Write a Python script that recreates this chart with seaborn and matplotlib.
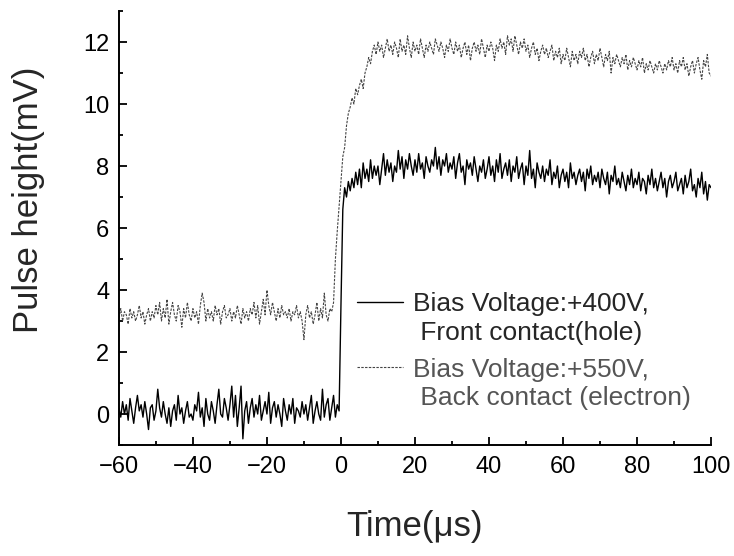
import numpy as np
import pandas as pd
import matplotlib
matplotlib.use("Agg")
import matplotlib.pyplot as plt
from matplotlib.lines import Line2D
from matplotlib.ticker import MultipleLocator
import seaborn as sns

# time axis, 0.5 us sampling
time_us = np.arange(-60, 100.5, 0.5)

# front contact (hole), +400 V : baseline before the trigger
hole_pre = [
    0.2, -0.1, 0.4, 0.0, 0.3, -0.2, 0.5, 0.1, -0.3, 0.2,
    0.6, 0.1, 0.3, -0.1, 0.4, 0.0, -0.5, 0.2, 0.3, -0.2,
    0.1, 0.8, 0.2, -0.1, 0.4, 0.0, -0.3, 0.2, -0.4, 0.1,
    0.3, -0.2, 0.6, 0.0, 0.2, -0.3, 0.1, 0.4, -0.1, 0.0,
    -0.2, 0.3, 0.1, 0.7, -0.1, 0.2, -0.4, 0.5, 0.0, -0.2,
    0.4, 0.1, -0.3, 0.3, 0.8, 0.0, -0.1, 0.5, 0.2, -0.2,
    0.3, 0.9, -0.1, 0.6, -0.4, 0.2, 0.9, -0.8, 0.1, 0.4,
    -0.3, 0.2, 0.5, -0.1, 0.3, 0.0, 0.6, -0.2, 0.1, 0.4,
    0.0, 0.7, -0.3, 0.2, 0.4, -0.1, 0.3, 0.0, -0.4, 0.5,
    0.1, -0.2, 0.3, 0.0, 0.5, -0.3, 0.2, 0.1, -0.1, 0.4,
    0.0, 0.3, -0.2, 0.2, 0.6, -0.3, 0.1, 0.4, 0.0, -0.2,
    0.8, -0.1, 0.3, 0.5, -0.2, 0.2, 0.6, -0.1, 0.3, 0.1,
]
# t = 0 ... 100
hole_post = [
    3.5, 6.6, 7.3, 7.0, 7.5, 7.2, 7.6, 7.3, 7.8, 7.4,
    7.9, 7.3, 8.1, 7.6, 7.9, 7.5, 8.2, 7.6, 8.0, 7.7,
    8.0, 7.4, 7.9, 8.4, 7.7, 8.2, 7.8, 8.1, 7.5, 8.0,
    7.8, 8.5, 7.9, 8.3, 7.6, 8.2, 7.9, 8.4, 8.0, 7.7,
    8.2, 7.8, 8.4, 7.9, 8.1, 7.6, 8.3, 8.0, 7.8, 8.2,
    8.0, 8.6, 7.9, 8.3, 7.7, 8.2, 8.0, 8.4, 7.8, 8.1,
    7.9, 8.3, 7.6, 8.1, 8.4, 7.8, 8.0, 7.4, 8.2, 7.9,
    8.1, 7.7, 8.3, 7.9, 7.5, 8.0, 7.8, 8.2, 7.6, 7.9,
    8.3, 7.7, 8.0, 7.5, 8.2, 7.8, 8.4, 7.6, 7.9, 8.1,
    7.7, 8.2, 7.5, 8.0, 7.8, 8.3, 7.6, 7.9, 8.1, 7.4,
    8.0, 7.7, 8.5, 7.6, 7.9, 7.3, 8.1, 7.8, 7.6, 8.0,
    7.5, 7.9, 7.7, 8.2, 7.4, 7.8, 7.6, 8.0, 7.3, 7.7,
    7.9, 7.5, 7.8, 7.3, 8.1, 7.6, 7.8, 7.4, 7.7, 7.9,
    7.5, 7.8, 7.2, 7.9, 7.6, 8.0, 7.4, 7.7, 7.5, 7.8,
    7.3, 7.9, 7.6, 7.4, 7.8, 7.1, 7.7, 7.5, 8.0, 7.4,
    7.6, 7.3, 7.8, 7.5, 7.2, 7.7, 7.4, 7.9, 7.3, 7.6,
    7.4, 7.8, 7.2, 7.6, 7.5, 7.1, 7.7, 7.4, 7.9, 7.3,
    7.6, 7.2, 7.5, 7.8, 7.3, 7.6, 7.0, 7.5, 7.7, 7.3,
    7.5, 7.8, 7.2, 7.4, 7.6, 7.1, 7.7, 7.3, 7.5, 7.9,
    7.2, 7.4, 7.0, 7.6, 7.3, 7.8, 7.1, 7.5, 6.9, 7.4,
    7.3,
]

# back contact (electron), +550 V
elec_pre = [
    3.1, 3.4, 3.0, 3.3, 3.2, 2.9, 3.4, 3.1, 3.3, 3.0,
    3.2, 3.5, 3.1, 3.3, 2.9, 3.2, 3.4, 3.0, 3.3, 3.1,
    3.5, 3.2, 3.6, 3.0, 3.4, 3.1, 3.7, 2.9, 3.3, 3.6,
    3.2, 3.0, 3.5, 3.3, 2.8, 3.4, 3.1, 3.6, 3.2, 3.0,
    3.4, 3.1, 3.3, 2.9, 3.5, 3.9, 3.6, 3.0, 3.4, 3.1,
    3.3, 3.0, 3.5, 3.2, 3.4, 2.9, 3.3, 3.5, 3.1, 3.2,
    3.4, 3.0, 3.3, 3.1, 3.5, 3.2, 2.9, 3.4, 3.1, 3.3,
    3.0, 3.4, 3.2, 3.6, 3.1, 3.5, 2.9, 3.3, 3.7, 3.2,
    4.0, 3.5, 3.2, 3.6, 3.3, 3.0, 3.4, 3.1, 3.5, 3.2,
    3.3, 3.1, 3.4, 3.0, 3.3, 3.2, 3.5, 3.1, 3.3, 3.0,
    2.4, 3.2, 3.5, 3.1, 3.3, 2.9, 3.2, 3.6, 3.0, 3.4,
    3.1, 3.9, 3.2, 3.0, 3.4, 3.3, 3.6, 5.0, 5.9, 6.7,
]
elec_post = [
    7.5, 8.3, 8.6, 9.3, 9.7, 9.9, 10.2, 10.0, 10.5, 10.3,
    10.6, 10.8, 10.5, 11.0, 11.2, 11.5, 11.3, 11.7, 11.9, 11.6,
    12.0, 11.7, 11.9, 11.5, 11.8, 12.1, 11.7, 11.9, 11.6, 12.0,
    11.8, 11.5, 12.1, 11.7, 11.9, 11.6, 12.2, 11.8, 11.5, 12.0,
    11.7, 11.9, 11.6, 12.1, 11.8, 11.5, 11.9, 11.7, 12.0, 11.8,
    11.6, 12.1, 11.9, 11.7, 12.0, 11.8, 11.5, 11.9, 11.7, 12.1,
    11.8, 11.6, 12.0, 11.7, 11.9, 11.5, 11.8, 12.0, 11.6, 11.9,
    11.4, 11.8, 12.0, 11.7, 11.9, 11.6, 12.1, 11.8, 11.5, 11.9,
    11.7, 12.0, 11.8, 11.4, 11.9, 11.7, 12.1, 11.8, 12.0, 11.6,
    12.2, 11.9, 12.1, 11.7, 12.2, 11.9, 11.6, 12.0, 11.8, 12.1,
    11.7, 11.9, 11.5, 11.8, 12.0, 11.6, 11.8, 11.4, 11.7, 11.9,
    11.6, 11.8, 11.5, 11.7, 11.9, 11.4, 11.7, 11.5, 11.8, 11.3,
    11.6, 11.4, 11.8, 11.5, 11.2, 11.7, 11.4, 11.6, 11.3, 11.7,
    11.5, 11.8, 11.4, 11.6, 11.2, 11.5, 11.7, 11.3, 11.6, 11.4,
    11.8, 11.5, 11.2, 11.6, 11.4, 11.7, 11.0, 11.5, 11.3, 11.6,
    11.4, 11.2, 11.5, 11.3, 11.6, 11.1, 11.4, 11.2, 11.5, 11.3,
    11.1, 11.4, 11.2, 11.5, 11.0, 11.3, 11.1, 11.4, 11.2, 11.0,
    11.3, 11.1, 11.4, 11.2, 11.0, 11.3, 11.1, 11.4, 11.2, 11.5,
    11.1, 11.3, 11.0, 11.4, 11.2, 11.5, 11.1, 11.3, 10.9, 11.2,
    11.4, 11.0, 11.3, 11.5, 11.1, 10.8, 11.4, 11.2, 11.6, 11.0,
    10.9,
]

hole_label = ["Bias Voltage:+400V,", " Front contact(hole)"]
elec_label = ["Bias Voltage:+550V,", " Back contact (electron)"]

df = pd.DataFrame({
    "t": time_us,
    "hole": hole_pre + hole_post,
    "electron": elec_pre + elec_post,
})

sns.set_style("ticks")
plt.rcParams["font.family"] = ["Liberation Sans", "DejaVu Sans"]

DASH = (0, (2.2, 1.2))
GREY = "#444444"

fig = plt.figure(figsize=(7.34, 5.56), dpi=100)
ax = fig.add_axes([0.1620, 0.1996, 0.8067, 0.7806])

sns.lineplot(data=df, x="t", y="electron", ax=ax, color=GREY,
             linewidth=0.8, linestyle=DASH)
sns.lineplot(data=df, x="t", y="hole", ax=ax, color="black", linewidth=1.0)

ax.set_xlim(-60, 100)
ax.set_ylim(-1, 13)
ax.xaxis.set_major_locator(MultipleLocator(20))
ax.xaxis.set_minor_locator(MultipleLocator(10))
ax.yaxis.set_minor_locator(MultipleLocator(1))
ax.set_yticks(np.arange(0, 13, 2))
ax.tick_params(which="both", direction="in", width=1.3, colors="black",
               labelsize=17)
ax.tick_params(axis="x", pad=8)
ax.tick_params(axis="y", pad=7)
ax.tick_params(which="major", length=6)
ax.tick_params(which="minor", length=3)
sns.despine(ax=ax)
for s in ["left", "bottom"]:
    ax.spines[s].set_linewidth(1.4)
    ax.spines[s].set_color("black")

ax.set_xlabel("Time(\u03bcs)", fontsize=25, labelpad=23)
ax.set_ylabel("Pulse height(mV)", fontsize=25)
ax.yaxis.set_label_coords(-0.125, 0.565)

# two legend blocks, handle aligned with the first text line of each
blank = Line2D([], [], linestyle="none")
h_solid = Line2D([], [], color="black", linewidth=1.0)
h_dash = Line2D([], [], color=GREY, linewidth=0.8, linestyle=DASH)
leg_kw = dict(loc="upper left", bbox_transform=fig.transFigure, frameon=False,
              fontsize=19, handlelength=1.75, handletextpad=0.4,
              labelspacing=0.18, borderpad=0, borderaxespad=0)
leg1 = ax.legend([h_solid, blank], hole_label,
                 bbox_to_anchor=(0.486, 0.474), **leg_kw)
ax.add_artist(leg1)
leg2 = ax.legend([h_dash, blank], elec_label,
                 bbox_to_anchor=(0.486, 0.357), **leg_kw)
for txt in leg2.get_texts():
    txt.set_color("#555555")

fig.savefig("out.png", dpi=100)
